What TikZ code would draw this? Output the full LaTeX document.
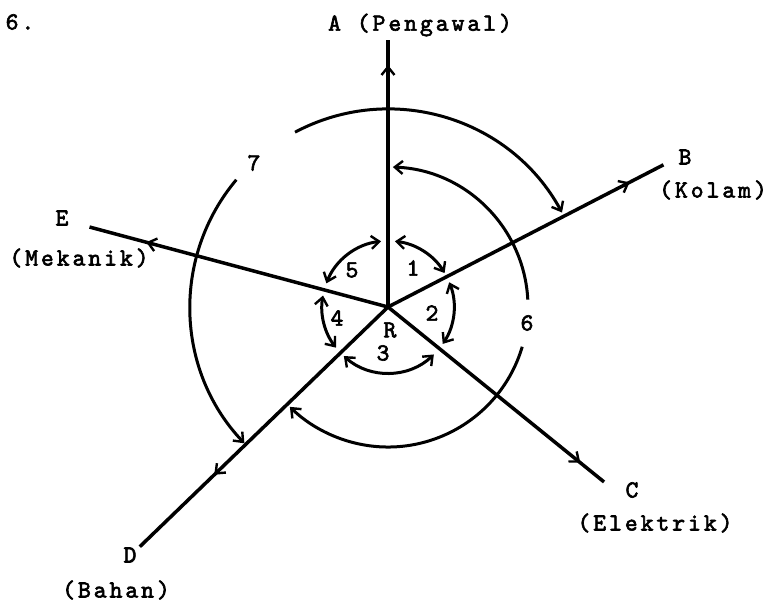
\documentclass[tikz,border=0pt]{standalone}
\usepackage{fontspec}
\newfontfamily\twfont{lmmono10-regular.otf}[LetterSpace=12,FakeBold=2.5]
\usetikzlibrary{arrows.meta,decorations.markings}
\tikzset{
  barb/.tip={Straight Barb[length=8pt,width=13pt,line width=2.4pt]},
  ray/.style={line width=3.5pt, postaction={decorate},
    decoration={markings, mark=at position #1 with {\arrow{barb}}}},
  arcline/.style={line width=3pt},
  lbl/.style={inner sep=0pt, font=\fontsize{24.5}{28}\selectfont\twfont},
}
\begin{document}
\begin{tikzpicture}[x=1pt,y=1pt]
\useasboundingbox (0,0) rectangle (771,603);
\coordinate (R) at (388,296);
\coordinate (Aend) at ([shift={(90:267)}]R);
\coordinate (Bend) at ([shift={(27.3:310)}]R);
\coordinate (Cend) at ([shift={(-39:278)}]R);
\coordinate (Dend) at ([shift={(224:345)}]R);
\coordinate (Eend) at ([shift={(165:309)}]R);
% rays
\draw[ray=0.906] (R) -- (Aend);
\draw[ray=0.877] (R) -- (Bend);
\draw[ray=0.89] (R) -- (Cend);
\draw[ray=0.70] (R) -- (Dend);
\draw[ray=0.81] (R) -- (Eend);
% inner arcs
\draw[arcline,barb-barb] ([shift={(84:66)}]R) arc[start angle=84,end angle=31,radius=66];
\draw[arcline,barb-barb] ([shift={(96:66)}]R) arc[start angle=96,end angle=159,radius=66];
\draw[arcline,barb-barb] ([shift={(170:66)}]R) arc[start angle=170,end angle=218,radius=66];
\draw[arcline,barb-barb] ([shift={(228:66)}]R) arc[start angle=228,end angle=314,radius=66];
\draw[arcline,barb-barb] ([shift={(326:66)}]R) arc[start angle=326,end angle=382,radius=66];
% arc 6
\draw[arcline,barb-] ([shift={(88:140)}]R) arc[start angle=88,end angle=3,radius=140];
\draw[arcline,-barb] ([shift={(-16.5:140)}]R) arc[start angle=-16.5,end angle=-134.5,radius=140];
% arc 7
\draw[arcline,-barb] ([shift={(118:198)}]R) arc[start angle=118,end angle=28.5,radius=198];
\draw[arcline,-barb] ([shift={(140:198)}]R) arc[start angle=140,end angle=223.5,radius=198];
% labels
\node[lbl] (n6) at (20,581) {6.};
\node[lbl] (la) at (420,578) {A (Pengawal)};
\node[lbl] (lb) at (685,446) {B};
\node[lbl] (lb2) at (713,413) {(Kolam)};
\node[lbl] (le) at (62,385) {E};
\node[lbl] (le2) at (79,345) {(Mekanik)};
\node[lbl] (lc) at (632,113) {C};
\node[lbl] (lc2) at (655,80) {(Elektrik)};
\node[lbl] (ld) at (130,48) {D};
\node[lbl] (ld2) at (116,13) {(Bahan)};
\node[lbl] (a1) at (413,335) {1};
\node[lbl] (a5) at (352,333) {5};
\node[lbl] (a2) at (432,290) {2};
\node[lbl] (a4) at (337,285) {4};
\node[lbl] (a3) at (383,250) {3};
\node[lbl] (lr) at (390,273) {R};
\node[lbl] (a6) at (527,280) {6};
\node[lbl] (a7) at (254,440) {7};
\end{tikzpicture}
\end{document}
